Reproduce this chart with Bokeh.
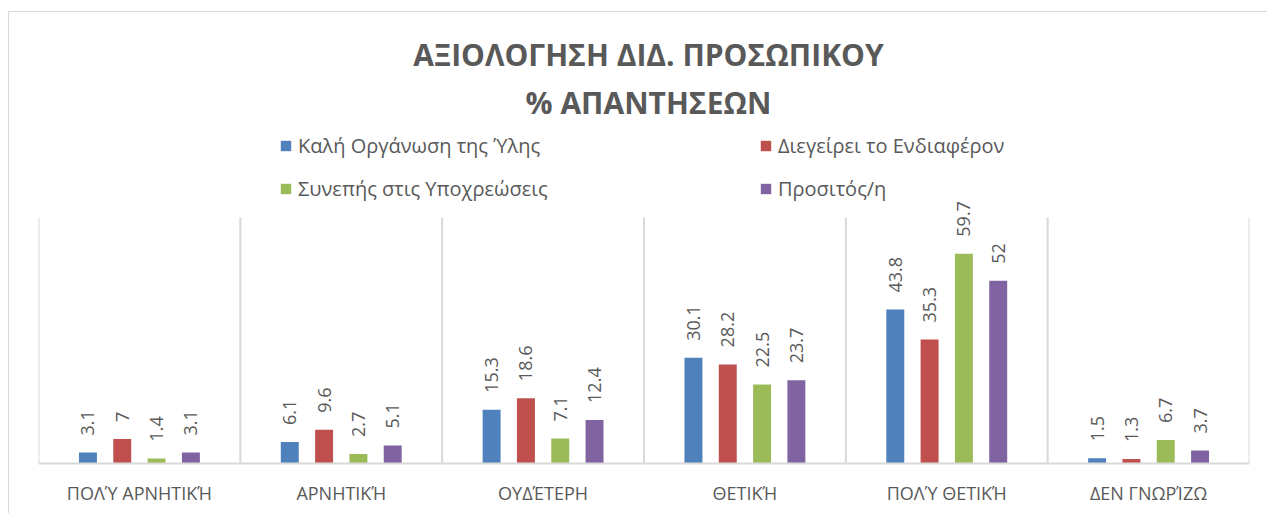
import numpy as np
from bokeh.plotting import figure
from bokeh.models import (ColumnDataSource, FixedTicker, Label, Legend, LegendItem, Range1d)
from bokeh.embed import file_html
from bokeh.resources import INLINE
from bokeh.core.properties import value

# ---------------- data ----------------
categories = ["ΠΟΛΎ ΑΡΝΗΤΙΚΉ", "ΑΡΝΗΤΙΚΉ", "ΟΥΔΈΤΕΡΗ", "ΘΕΤΙΚΉ", "ΠΟΛΎ ΘΕΤΙΚΉ", "ΔΕΝ ΓΝΩΡΊΖΩ"]
series_names = ["Καλή Οργάνωση της Ύλης", "Διεγείρει το Ενδιαφέρον",
                "Συνεπής στις Υποχρεώσεις", "Προσιτός/η"]
organosi = [3.1, 6.1, 15.3, 30.1, 43.8, 1.5]
endiaferon = [7, 9.6, 18.6, 28.2, 35.3, 1.3]
synepis = [1.4, 2.7, 7.1, 22.5, 59.7, 6.7]
prositos = [3.1, 5.1, 12.4, 23.7, 52, 3.7]
series_values = [organosi, endiaferon, synepis, prositos]
title_lines = ["ΑΞΙΟΛΟΓΗΣΗ ΔΙΔ. ΠΡΟΣΩΠΙΚΟΥ", "% ΑΠΑΝΤΗΣΕΩΝ"]
y_max = 70

# ---------------- style ----------------
colors = ["#4F81BD", "#C0504D", "#9BBB59", "#8064A2"]
FONT = "Open Sans"
TXT = "#595959"
GRID = "#d9d9d9"

W, H = 1259, 502
FL, FR, FT, FB = 29, 1240, 0, 451        # frame edges (figure pixels)
PXX = (FR - FL) / len(categories)
PXY = (FB - 205) / y_max
X0, X1 = -0.5, len(categories) - 0.5
Y_END = (FB - FT) / PXY

def xd(px):
    return X0 + (px - FL) / PXX

def yd(py):
    return (FB - py) / PXY

p = figure(width=W, height=H, output_backend="svg", toolbar_location=None,
           x_range=Range1d(X0, X1), y_range=Range1d(0, Y_END),
           y_axis_location=None,
           min_border_left=FL, min_border_right=W - FR,
           min_border_top=FT, min_border_bottom=H - FB)
p.outline_line_color = None
p.xgrid.visible = False
p.ygrid.visible = False
p.background_fill_color = None
p.border_fill_color = "white"
p.styles = {"border-top": "1px solid #d9d9d9", "border-left": "1px solid #d9d9d9",
            "margin-top": "11px", "margin-left": "8px"}

# separators between categories
bounds = np.arange(len(categories) + 1) - 0.5
p.segment(x0=bounds, y0=np.zeros(len(bounds)), x1=bounds, y1=np.full(len(bounds), y_max),
          line_color=GRID, line_width=2)

# bars
idx = np.arange(len(categories))
pitch = 0.170
bw = 0.089
offsets = [-1.5 * pitch, -0.5 * pitch, 0.5 * pitch, 1.5 * pitch]
renderers = []
for name, vals, col, off in zip(series_names, series_values, colors, offsets):
    src = ColumnDataSource(dict(x=idx + off, top=vals, lab=[f"{v:g}" for v in vals]))
    r = p.vbar(x="x", top="top", width=bw, bottom=0, source=src,
               fill_color=col, line_color=None)
    renderers.append(r)
    p.text(x="x", y="top", text="lab", source=src, angle=np.pi / 2,
           text_align="left", text_baseline="middle", y_offset=-17,
           text_font=value(FONT), text_font_size="18px", text_color=TXT)

# x axis
ax = p.xaxis[0]
ax.ticker = FixedTicker(ticks=list(range(len(categories))))
ax.major_label_overrides = {i: c for i, c in enumerate(categories)}
ax.major_tick_line_color = None
ax.minor_tick_line_color = None
ax.axis_line_color = GRID
ax.axis_line_width = 2
ax.major_label_standoff = 11
ax.major_label_text_font = FONT
ax.major_label_text_font_size = "18px"
ax.major_label_text_color = TXT

# title
for line, base in zip(title_lines, [42, 90]):
    p.add_layout(Label(x=xd(639), y=yd(base), text=line, text_align="center",
                       text_baseline="alphabetic", text_font=FONT,
                       text_font_size="30px", text_font_style="bold", text_color=TXT))

# legends (one per entry, 2 x 2 grid)
sq_left = [270, 750]
sq_top = [134, 177]
for i, (name, r) in enumerate(zip(series_names, renderers)):
    col, row = i % 2, i // 2
    leg = Legend(items=[LegendItem(label=name, renderers=[r])],
                 location=(sq_left[col] - FL, FB - (sq_top[row] + 13)),
                 glyph_width=13, glyph_height=13, label_standoff=6,
                 label_height=13, padding=0, margin=0, spacing=0,
                 border_line_color=None, background_fill_alpha=0,
                 label_text_font=FONT, label_text_font_size="20px",
                 label_text_color=TXT, label_text_baseline="middle")
    p.add_layout(leg, "center")

open("out.html", "w").write(file_html(p, INLINE))
